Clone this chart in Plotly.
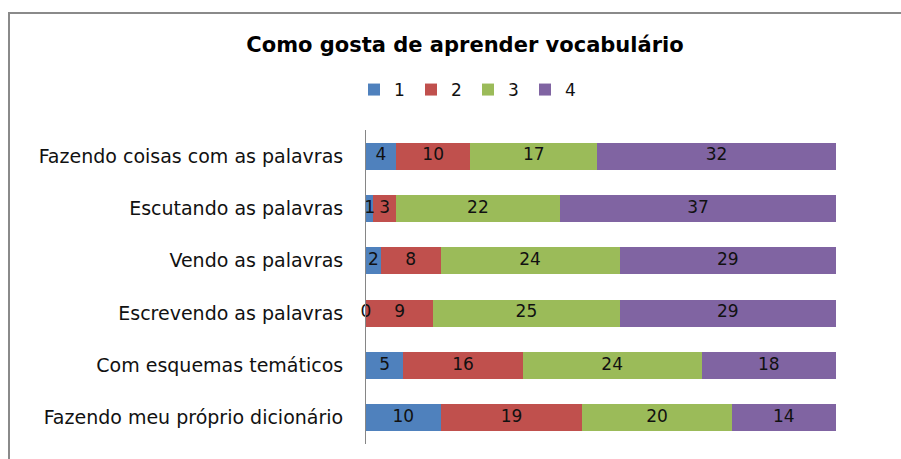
import plotly.graph_objects as go

categories = [
    "Fazendo coisas com as palavras",
    "Escutando as palavras",
    "Vendo as palavras",
    "Escrevendo as palavras",
    "Com esquemas temáticos",
    "Fazendo meu próprio dicionário",
]
series_names = ["1", "2", "3", "4"]
s1 = [4, 1, 2, 0, 5, 10]
s2 = [10, 3, 8, 9, 16, 19]
s3 = [17, 22, 24, 25, 24, 20]
s4 = [32, 37, 29, 29, 18, 14]
series_values = [s1, s2, s3, s4]
colors = ["#4F81BD", "#C0504D", "#9BBB59", "#8064A2"]

W, H = 901, 459
ML, MR, MT, MB = 366, 65, 130, 15
FONT = "DejaVu Sans"

fig = go.Figure()
for name, vals, col in zip(series_names, series_values, colors):
    fig.add_trace(go.Bar(
        y=categories, x=vals, name=name, orientation="h",
        marker=dict(color=col, line=dict(width=0)),
        hoverinfo="x+name",
    ))

# data labels at segment midpoints
lab_x, lab_y, lab_t = [], [], []
for i, cat in enumerate(categories):
    cum = 0
    for vals in series_values:
        v = vals[i]
        lab_x.append(cum + v / 2)
        lab_y.append(cat)
        lab_t.append(str(v))
        cum += v
fig.add_trace(go.Scatter(
    x=lab_x, y=lab_y, text=lab_t, mode="text", showlegend=False,
    textfont=dict(family=FONT, size=17, color="#111111"),
    hoverinfo="skip", cliponaxis=False,
))

total = max(a + b + c + d for a, b, c, d in zip(s1, s2, s3, s4))

# border lines (left and top)
pw = W - ML - MR
ph = H - MT - MB
def px_to_paper_x(px):
    return (px - ML) / pw
def px_to_paper_y(py):
    return 1 + (MT - py) / ph

border = "#8a8a8a"
fig.add_shape(type="line", xref="paper", yref="paper",
              x0=px_to_paper_x(9), x1=px_to_paper_x(905),
              y0=px_to_paper_y(13), y1=px_to_paper_y(13),
              line=dict(color=border, width=2))
fig.add_shape(type="line", xref="paper", yref="paper",
              x0=px_to_paper_x(9), x1=px_to_paper_x(9),
              y0=px_to_paper_y(12), y1=px_to_paper_y(465),
              line=dict(color=border, width=2))

fig.update_layout(
    width=W, height=H,
    margin=dict(l=ML, r=MR, t=MT, b=MB),
    paper_bgcolor="white", plot_bgcolor="white",
    barmode="stack", bargap=0.485,
    title=dict(text="<b>Como gosta de aprender vocabulário</b>",
               font=dict(family=FONT, size=21, color="#000000"),
               x=465 / W, xanchor="center", xref="container",
               y=1 - 45 / H, yanchor="middle", yref="container"),
    legend=dict(orientation="h", x=468 / W, xanchor="center", xref="container",
                y=1 - 90 / H, yanchor="middle", yref="container",
                entrywidth=12, entrywidthmode="pixels",
                font=dict(family=FONT, size=17, color="#111111"),
                traceorder="normal"),
    xaxis=dict(range=[0, total], visible=False, fixedrange=True),
    yaxis=dict(categoryorder="array", categoryarray=categories,
               autorange="reversed", showline=True, linecolor="#868686",
               linewidth=1, showgrid=False, ticks="", ticklabelstandoff=18,
               tickfont=dict(family=FONT, size=19, color="#111111")),
    showlegend=True,
)

fig.write_html(
    "out.html",
    config={"displayModeBar": False},
    post_script="document.body.style.margin='0';document.body.style.overflow='hidden';",
)
